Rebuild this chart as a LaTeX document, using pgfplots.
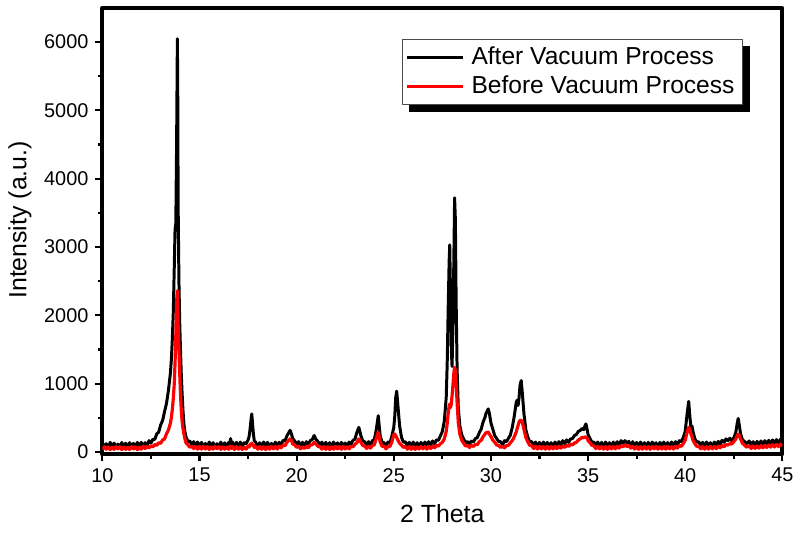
\documentclass[border=0pt]{standalone}
\usepackage{fontspec}
\setmainfont{Liberation Sans}
\usepackage{pgfplots}
\usepackage{pgfplotstable}
\pgfplotsset{compat=1.18}
\usetikzlibrary{calc}
\pgfdeclarelayer{bg}
\pgfsetlayers{bg,main}
\pgfplotstableread{
x after before
10.0 135 35
10.1 65 77
10.2 120 40
10.3 60 73
10.4 140 33
10.5 75 67
10.6 130 37
10.7 62 77
10.8 115 45
10.9 70 75
11.0 138 33
11.1 80 70
11.2 128 37
11.3 60 65
11.4 135 35
11.5 85 77
11.6 125 43
11.7 65 73
11.8 140 33
11.9 72 71
12.0 140 40
12.1 75 82
12.2 135 50
12.3 90 82
12.4 165 60
12.5 130 88
12.6 185 75
12.7 185 110
12.8 265 95
12.9 290 135
13.0 395 125
13.1 460 175
13.2 590 190
13.3 710 265
13.4 900 320
13.5 1150 420
13.55 1350 500
13.6 1650 620
13.65 2050 780
13.7 2700 1000
13.74 3250 1300
13.78 3350 1700
13.82 4500 2200
13.86 6050 2360
13.88 5200 2150
13.9 3600 1850
13.94 2500 1500
13.98 1900 1150
14.02 1500 850
14.06 1150 620
14.1 880 460
14.15 600 340
14.2 400 260
14.25 290 190
14.3 225 135
14.4 150 105
14.5 160 68
14.6 105 85
14.7 150 50
14.8 85 78
14.9 145 40
15.0 70 80
15.1 140 40
15.2 65 80
15.3 125 43
15.4 65 76
15.5 145 36
15.6 80 70
15.7 135 40
15.8 67 80
15.9 120 48
16.0 75 78
16.1 143 36
16.2 85 73
16.3 133 40
16.4 65 68
16.5 140 38
16.55 90 80
16.6 195 85
16.65 110 50
16.7 145 78
16.8 65 36
16.9 140 76
17.0 70 40
17.1 145 73
17.2 80 36
17.3 135 70
17.4 120 42
17.5 175 85
17.55 220 70
17.6 330 110
17.65 470 100
17.69 557 130
17.73 420 105
17.77 270 100
17.82 160 65
17.9 140 80
18.0 70 40
18.1 135 78
18.2 65 38
18.3 145 75
18.4 80 35
18.5 140 72
18.6 70 40
18.7 125 80
18.8 72 45
18.9 143 78
19.0 85 42
19.1 140 85
19.2 100 60
19.3 170 100
19.4 160 90
19.5 235 140
19.6 285 170
19.66 315 190
19.72 275 175
19.8 195 115
19.9 160 105
20.0 110 65
20.1 150 85
20.2 80 45
20.3 140 75
20.4 80 50
20.5 150 80
20.6 110 60
20.7 165 100
20.8 180 105
20.9 240 140
21.0 180 115
21.1 150 80
21.2 100 78
21.3 145 40
21.4 68 76
21.5 140 38
21.6 75 75
21.7 135 35
21.8 70 72
21.9 145 40
22.0 80 80
22.1 133 45
22.2 65 78
22.3 140 38
22.4 90 80
22.5 130 42
22.6 70 73
22.7 145 45
22.8 110 80
22.9 170 75
23.0 185 110
23.1 285 135
23.2 360 190
23.3 245 145
23.4 160 95
23.5 150 85
23.6 90 52
23.7 150 82
23.8 100 55
23.9 165 95
24.0 180 105
24.1 330 200
24.2 530 290
24.25 380 220
24.3 235 145
24.4 140 80
24.5 135 85
24.6 80 45
24.7 145 80
24.8 130 80
24.9 230 145
25.0 360 250
25.05 520 262
25.1 800 240
25.15 890 210
25.2 720 180
25.3 380 125
25.4 210 100
25.5 140 65
25.6 150 82
25.7 75 40
25.8 140 78
25.9 70 38
26.0 145 75
26.1 80 36
26.2 135 70
26.3 68 42
26.4 140 80
26.5 75 45
26.6 145 78
26.7 85 40
26.8 150 82
26.9 95 50
27.0 160 85
27.1 120 60
27.2 175 95
27.3 170 85
27.4 235 120
27.5 300 140
27.6 450 190
27.7 800 300
27.75 1300 420
27.8 2100 560
27.85 2800 680
27.88 3030 700
27.92 2300 650
27.96 1500 700
28.0 1250 820
28.05 1900 1000
28.1 3000 1180
28.13 3720 1235
28.17 3400 1200
28.21 2200 1000
28.26 1200 720
28.32 650 430
28.4 380 260
28.5 250 170
28.6 185 125
28.7 135 85
28.8 150 95
28.9 120 65
29.0 160 95
29.1 145 80
29.2 195 110
29.3 210 105
29.4 280 150
29.5 335 170
29.6 440 225
29.7 510 260
29.75 570 285
29.8 590 280
29.86 630 290
29.92 565 260
30.0 425 225
30.1 330 170
30.2 235 140
30.3 195 100
30.4 150 95
30.5 150 65
30.6 100 85
30.7 165 60
30.8 150 95
30.9 200 95
31.0 245 135
31.1 360 165
31.2 520 220
31.3 720 290
31.34 755 330
31.4 680 390
31.45 800 440
31.5 980 460
31.56 1045 465
31.62 850 430
31.7 560 330
31.8 320 210
31.9 215 145
32.0 150 95
32.1 150 90
32.2 90 50
32.3 145 82
32.4 70 42
32.5 140 80
32.6 65 45
32.7 145 78
32.8 80 40
32.9 140 80
33.0 75 42
33.1 135 78
33.2 70 45
33.3 145 80
33.4 90 48
33.5 150 85
33.6 100 55
33.7 165 88
33.8 120 65
33.9 175 100
34.0 140 80
34.1 190 110
34.2 195 105
34.3 240 130
34.4 255 140
34.5 300 175
34.6 315 190
34.7 345 215
34.78 325 205
34.85 390 222
34.89 410 215
34.95 335 200
35.0 255 165
35.1 195 135
35.2 140 95
35.3 145 90
35.4 90 50
35.5 145 80
35.6 75 45
35.7 140 78
35.8 70 40
35.9 145 76
36.0 80 38
36.1 135 80
36.2 75 45
36.3 145 78
36.4 85 45
36.5 150 82
36.6 95 55
36.7 165 92
36.8 125 75
36.9 165 105
37.0 130 78
37.1 155 95
37.2 95 55
37.3 150 80
37.4 75 42
37.5 140 78
37.6 70 38
37.7 145 75
37.8 80 40
37.9 135 80
38.0 72 42
38.1 140 76
38.2 68 38
38.3 145 78
38.4 85 45
38.5 135 80
38.6 65 40
38.7 140 73
38.8 80 42
38.9 145 78
39.0 72 40
39.1 138 80
39.2 75 45
39.3 145 75
39.4 85 42
39.5 150 82
39.6 100 55
39.7 165 95
39.8 150 80
39.9 210 120
40.0 300 170
40.1 560 290
40.18 740 360
40.24 520 320
40.3 340 260
40.35 380 220
40.4 300 170
40.5 190 120
40.6 140 80
40.7 150 85
40.8 85 45
40.9 140 78
41.0 75 40
41.1 145 76
41.2 80 42
41.3 135 80
41.4 70 45
41.5 145 78
41.6 90 48
41.7 155 85
41.8 110 60
41.9 170 95
42.0 140 75
42.1 190 108
42.2 165 100
42.3 200 120
42.4 160 115
42.5 205 150
42.6 280 185
42.68 420 240
42.73 490 260
42.78 400 245
42.85 265 190
42.95 175 125
43.05 155 100
43.15 120 70
43.3 160 90
43.4 90 50
43.5 150 88
43.6 85 52
43.7 155 85
43.8 95 55
43.9 160 92
44.0 100 60
44.1 165 95
44.2 110 65
44.3 170 100
44.4 115 70
44.5 175 105
44.6 120 72
44.7 180 110
44.8 125 78
44.9 185 112
45.0 135 82
}\xrd
\begin{document}
\begin{tikzpicture}
\begin{axis}[
  scale only axis,
  width=342pt, height=224.5pt,
  xmin=10, xmax=45, ymin=-35, ymax=6500,
  xtick={10,15,...,45}, minor x tick num=1,
  ytick={0,1000,...,6000}, minor y tick num=1,
  tick align=outside, tick pos=left,
  major tick length=3.5pt, minor tick length=2.2pt,
  every tick/.style={black, line width=1.1pt},
  axis line style={line width=2pt},
  /pgf/number format/assume math mode=true,
  /pgf/number format/1000 sep={},
  tick label style={font=\fontsize{10}{12}\selectfont},
  label style={font=\fontsize{12.5}{15}\selectfont},
  xlabel={2 Theta},
  ylabel={Intensity (a.u.)},
  xlabel style={at={(axis description cs:0.5,-0.1336)}, anchor=center},
  ylabel style={at={(axis description cs:-0.1213,0.525)}, anchor=center},
  legend cell align=left,
  legend image code/.code={\draw[#1, line width=1.3pt] (0pt,0pt) -- (28pt,0pt); \path (29.5pt,0pt);},
  legend style={name=leg, at={(0.44,0.931)}, anchor=north west,
    draw=black!70, line width=0.5pt, fill=white,
    font=\fontsize{12.35}{14}\selectfont,
    inner xsep=2pt, inner ysep=2pt, row sep=0pt},
  line join=round,
]
\addplot[black, line width=1.5pt] table[x=x, y=after] {\xrd};
\addlegendentry{After Vacuum Process}
\addplot[red, line width=1.6pt] table[x=x, y=before] {\xrd};
\addlegendentry{Before Vacuum Process}
\end{axis}
\begin{pgfonlayer}{bg}
\fill[black] ($(leg.south west)+(3.5pt,-3.5pt)$) rectangle ($(leg.north east)+(3.5pt,-3.5pt)$);
\end{pgfonlayer}
\path ($(current axis.south west)+(-51.5pt,-40.5pt)$) rectangle ($(current axis.north east)+(6.5pt,4pt)$);
\end{tikzpicture}
\end{document}
